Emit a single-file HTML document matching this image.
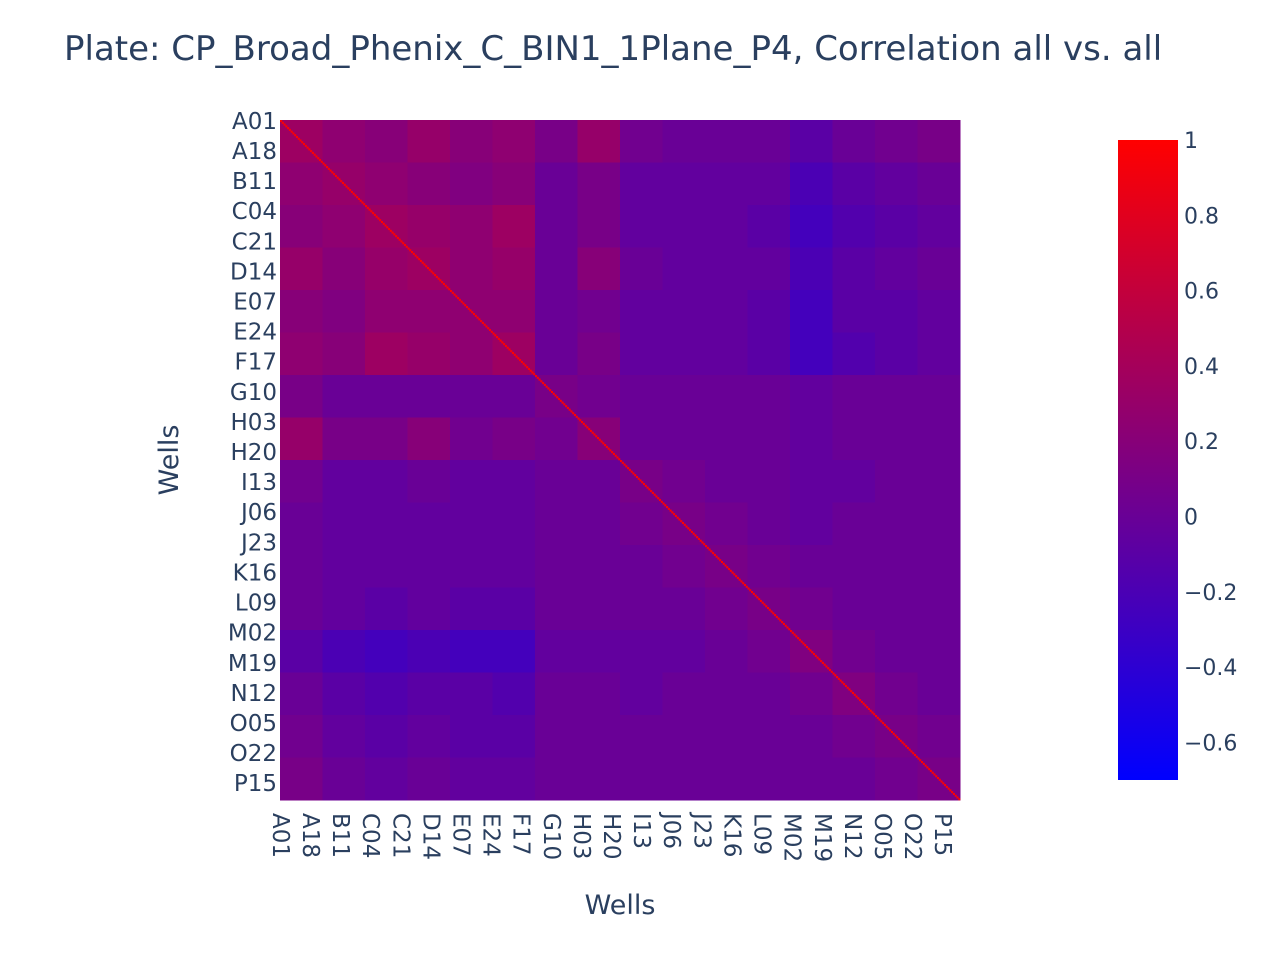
<!DOCTYPE html>
<html><head><meta charset="utf-8">
<style>
body{margin:0;background:#fff;}
svg text{font-family:"DejaVu Sans","Liberation Sans",sans-serif;fill:#2a3f5f;}
</style></head>
<body>
<svg id="chart" width="1280" height="960" xmlns="http://www.w3.org/2000/svg">
<rect width="1280" height="960" fill="#fff"/>
<text x="64" y="60" font-size="34">Plate: CP_Broad_Phenix_C_BIN1_1Plane_P4, Correlation all vs. all</text>
<g id="cells"></g>
<g id="diag"></g>
<g id="yticks"></g>
<g id="xticks"></g>
<text x="0" y="0" font-size="27" text-anchor="middle" transform="translate(178,460) rotate(-90)">Wells</text>
<text x="620" y="914" font-size="27" text-anchor="middle">Wells</text>
<defs><linearGradient id="cb" x1="0" y1="1" x2="0" y2="0"><stop offset="0" stop-color="#0000ff"/><stop offset="1" stop-color="#ff0000"/></linearGradient></defs>
<rect x="1118" y="140" width="60" height="640" fill="url(#cb)"/>
<g id="cbticks"></g>
</svg>
<script>
const blockLabels = ["A","B","C","D","E","F","G","H","I","J","K","L","M","N","O","P"];
const blockValues = [
[0.35,0.25,0.2,0.3,0.2,0.25,0.1,0.3,0.05,0.0,0.0,0.0,-0.1,0.0,0.05,0.1],
[0.25,0.3,0.25,0.2,0.15,0.2,0.0,0.1,-0.05,-0.05,-0.05,-0.05,-0.2,-0.1,-0.05,0.0],
[0.2,0.25,0.35,0.3,0.25,0.35,0.0,0.1,-0.05,-0.05,-0.05,-0.1,-0.25,-0.15,-0.1,-0.05],
[0.3,0.2,0.3,0.35,0.25,0.3,0.0,0.2,0.0,-0.05,-0.05,-0.05,-0.2,-0.1,-0.05,0.0],
[0.2,0.15,0.25,0.25,0.25,0.25,0.0,0.05,-0.05,-0.05,-0.05,-0.1,-0.25,-0.1,-0.1,-0.05],
[0.25,0.2,0.35,0.3,0.25,0.35,0.0,0.1,-0.05,-0.05,-0.05,-0.1,-0.25,-0.15,-0.1,-0.05],
[0.1,0.0,0.0,0.0,0.0,0.0,0.1,0.05,0.0,0.0,0.0,0.0,-0.05,0.0,0.0,0.0],
[0.3,0.1,0.1,0.2,0.05,0.1,0.05,0.2,0.0,0.0,0.0,0.0,-0.05,0.0,0.0,0.0],
[0.05,-0.05,-0.05,0.0,-0.05,-0.05,0.0,0.0,0.1,0.05,0.0,0.0,-0.05,-0.05,0.0,0.0],
[0.0,-0.05,-0.05,-0.05,-0.05,-0.05,0.0,0.0,0.05,0.1,0.05,0.0,-0.05,0.0,0.0,0.0],
[0.0,-0.05,-0.05,-0.05,-0.05,-0.05,0.0,0.0,0.0,0.05,0.1,0.05,0.0,0.0,0.0,0.0],
[0.0,-0.05,-0.1,-0.05,-0.1,-0.1,0.0,0.0,0.0,0.0,0.05,0.1,0.05,0.0,0.0,0.0],
[-0.1,-0.2,-0.25,-0.2,-0.25,-0.25,-0.05,-0.05,-0.05,-0.05,0.0,0.05,0.15,0.05,0.0,0.0],
[0.0,-0.1,-0.15,-0.1,-0.1,-0.15,0.0,0.0,-0.05,0.0,0.0,0.0,0.05,0.15,0.05,0.0],
[0.05,-0.05,-0.1,-0.05,-0.1,-0.1,0.0,0.0,0.0,0.0,0.0,0.0,0.0,0.05,0.1,0.05],
[0.1,0.0,-0.05,0.0,-0.05,-0.05,0.0,0.0,0.0,0.0,0.0,0.0,0.0,0.0,0.05,0.1]
];
const diagValues = Array(384).fill(1);
const tickLabels = ["A01","A18","B11","C04","C21","D14","E07","E24","F17","G10","H03","H20","I13","J06","J23","K16","L09","M02","M19","N12","O05","O22","P15"];
const cbTicks = [1,0.8,0.6,0.4,0.2,0,-0.2,-0.4,-0.6];

const NS="http://www.w3.org/2000/svg";
const x0=280,y0=120,W=680,N=384,vmin=-0.7,vmax=1;
const xs=i=>x0+i*W/N;
const ys=i=>y0+i*W/N;
function color(v){const t=Math.max(0,Math.min(1,(v-vmin)/(vmax-vmin)));return `rgb(${Math.round(255*t)},0,${Math.round(255*(1-t))})`;}
const cells=document.getElementById('cells');
const bs=N/blockLabels.length;
blockValues.forEach((row,r)=>row.forEach((v,c)=>{
  const el=document.createElementNS(NS,'rect');
  
  
  el.setAttribute('x',xs(c*bs));el.setAttribute('y',ys(r*bs));
  el.setAttribute('width',xs((c+1)*bs)-xs(c*bs)+0.5);el.setAttribute('height',ys((r+1)*bs)-ys(r*bs)+0.5);
  el.setAttribute('fill',color(v));cells.appendChild(el);
}));
const dg=document.getElementById('diag');
diagValues.forEach((v,i)=>{
  const el=document.createElementNS(NS,'rect');
  
  
  el.setAttribute('x',xs(i));el.setAttribute('y',ys(i));
  el.setAttribute('width',W/N+0.3);el.setAttribute('height',W/N+0.3);
  el.setAttribute('fill',color(v));dg.appendChild(el);
});
const yt=document.getElementById('yticks'),xt=document.getElementById('xticks');
tickLabels.forEach((lab,k)=>{
  const idx=k*17, c=ys(idx+0.5);
  const t=document.createElementNS(NS,'text');
  
  
  t.setAttribute('x',277);t.setAttribute('y',c+8);t.setAttribute('font-size','23');t.setAttribute('text-anchor','end');
  t.textContent=lab;yt.appendChild(t);
  const cx=xs(idx+0.5);
  const t2=document.createElementNS(NS,'text');
  
  
  t2.setAttribute('font-size','23');
  t2.setAttribute('transform',`translate(${cx-8},813) rotate(90)`);
  t2.textContent=lab;xt.appendChild(t2);
});
const cb=document.getElementById('cbticks');
cbTicks.forEach(v=>{
  const y=140+(vmax-v)/(vmax-vmin)*640;
  const t=document.createElementNS(NS,'text');
  
  
  t.setAttribute('x',1184);t.setAttribute('y',y+8);t.setAttribute('font-size','22');
  t.textContent=v<0?'\u2212'+Math.abs(v):String(v);cb.appendChild(t);
});
</script>
</body></html>
